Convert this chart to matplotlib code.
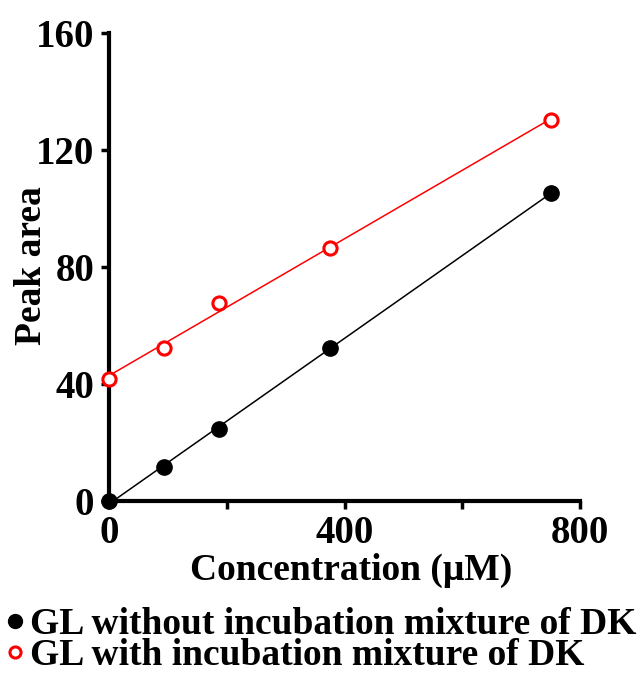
import numpy as np
import matplotlib
matplotlib.use('Agg')
import matplotlib.pyplot as plt
from matplotlib.lines import Line2D

plt.rcParams['font.family'] = ['Liberation Serif', 'DejaVu Serif']
plt.rcParams['font.weight'] = 'bold'

# concentration (uM) and peak areas
conc = [0, 93.75, 187.5, 375, 750]
area_without = [0, 11.6, 24.4, 52.4, 105.3]
area_with = [41.8, 52.4, 67.8, 86.4, 130.2]

labels = ['GL without incubation mixture of DK', 'GL with incubation mixture of DK']

fig = plt.figure(figsize=(6.44, 6.74), dpi=100)
ax = fig.add_axes([0.169, 0.257, 0.732, 0.694])

x = np.array(conc)
xfit = np.array([conc[0], conc[-1]])
for y, col in [(area_without, 'black'), (area_with, 'red')]:
    k, b = np.polyfit(x, np.array(y), 1)
    ax.plot(xfit, k * xfit + b, color=col, lw=1.1, clip_on=False, zorder=2)

ax.plot(conc, area_without, 'o', ms=11, color='black', clip_on=False, zorder=3)
ax.plot(conc, area_with, 'o', ms=9.5, mfc='white', mec='red', mew=2.2,
        clip_on=False, zorder=3)

ax.set_xlim(0, 800)
ax.set_ylim(0, 160)
ax.set_xticks([0, 400, 800])
ax.set_xticks([200, 600], minor=True)
ax.set_yticks([0, 40, 80, 120, 160])
for s in ['top', 'right']:
    ax.spines[s].set_visible(False)
for s in ['left', 'bottom']:
    ax.spines[s].set_linewidth(3)
ax.tick_params(which='both', width=2.5, length=5.5, labelsize=28, pad=5)

ax.set_xlabel('Concentration (\u03bcM)', fontsize=27, fontweight='bold')
ax.set_ylabel('Peak area', fontsize=27, fontweight='bold')
ax.xaxis.set_label_coords(0.514, -0.111)
ax.yaxis.set_label_coords(-0.127, 0.502)

handles = [
    Line2D([], [], ls='none', marker='o', ms=10, color='black'),
    Line2D([], [], ls='none', marker='o', ms=8, mfc='white', mec='red', mew=2.2),
]
fig.legend(handles, labels, loc='upper left', bbox_to_anchor=(0.008, 0.099),
           frameon=False, fontsize=27, handlelength=0.5, handletextpad=0.15,
           labelspacing=-0.12, borderaxespad=0, borderpad=0)

fig.savefig('out.png', dpi=100)
